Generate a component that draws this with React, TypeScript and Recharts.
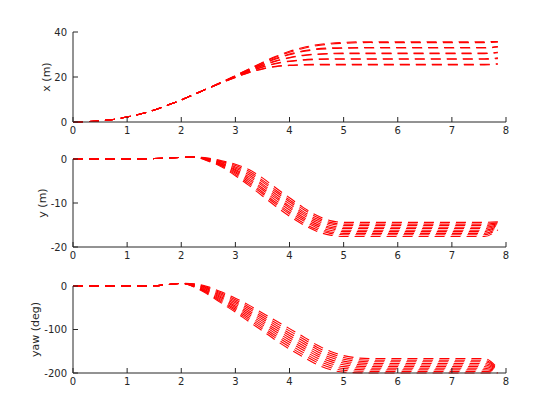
import { Line, LineChart, XAxis, YAxis } from "recharts";

// sample times: a shared start (all runs identical) and the part where runs diverge
const headTime = [0, 0.5, 1, 1.5, 1.75, 2];
const tailTime = [2.25, 2.5, 2.75, 3, 3.25, 3.5, 3.75, 4, 4.25, 4.5, 4.75, 5, 5.5, 7.6, 7.85];
const timeTicks = [0, 1, 2, 3, 4, 5, 6, 7, 8];

const xTicks = [0, 20, 40];
const yTicks = [-20, -10, 0];
const yawTicks = [-200, -100, 0];

// x (m)
const xHead = [0, 0.5, 2.2, 5.3, 7.5, 9.8];
const xTails = [
  [12.4, 15.0, 17.5, 19.8, 21.9, 23.5, 24.6, 25.1, 25.3, 25.4, 25.4, 25.4, 25.4, 25.4, 25.7],
  [12.4, 15.0, 17.5, 19.8, 22.0, 23.7, 24.8, 25.3, 25.5, 25.6, 25.6, 25.6, 25.6, 25.6, 25.9],
  [12.4, 15.0, 17.6, 20.0, 22.3, 24.3, 25.9, 26.9, 27.5, 27.8, 27.9, 27.9, 27.9, 27.9, 28.2],
  [12.4, 15.0, 17.6, 20.0, 22.4, 24.5, 26.1, 27.1, 27.7, 28.0, 28.1, 28.1, 28.1, 28.1, 28.5],
  [12.4, 15.0, 17.6, 20.2, 22.7, 25.0, 27.0, 28.5, 29.5, 30.0, 30.3, 30.4, 30.4, 30.4, 30.8],
  [12.4, 15.0, 17.6, 20.2, 22.8, 25.2, 27.2, 28.7, 29.7, 30.2, 30.5, 30.6, 30.6, 30.6, 31.0],
  [12.4, 15.0, 17.7, 20.4, 23.1, 25.7, 28.0, 29.9, 31.3, 32.2, 32.6, 32.8, 32.9, 32.9, 33.3],
  [12.4, 15.0, 17.7, 20.4, 23.2, 25.9, 28.3, 30.2, 31.6, 32.5, 32.9, 33.0, 33.1, 33.1, 33.5],
  [12.4, 15.0, 17.7, 20.6, 23.5, 26.3, 28.9, 31.0, 32.7, 33.9, 34.6, 35.0, 35.3, 35.3, 35.5],
  [12.4, 15.0, 17.7, 20.6, 23.6, 26.5, 29.2, 31.4, 33.1, 34.3, 35.0, 35.4, 35.7, 35.7, 35.8],
];

// y (m)
const yHead = [0, 0, 0, 0.1, 0.2, 0.35];
const yTails = [
  [0.45, 0.2, -0.4, -1.2, -2.4, -4.3, -6.6, -8.8, -11.0, -12.8, -14.0, -14.4, -14.4, -14.4, -14.3],
  [0.45, 0.1, -0.6, -1.5, -2.8, -4.8, -7.1, -9.3, -11.4, -13.2, -14.4, -14.8, -14.8, -14.8, -14.5],
  [0.44, 0.0, -0.7, -1.8, -3.2, -5.2, -7.5, -9.7, -11.9, -13.6, -14.7, -15.1, -15.1, -15.1, -14.7],
  [0.44, 0.0, -0.9, -2.1, -3.6, -5.7, -8.0, -10.2, -12.3, -14.0, -15.1, -15.5, -15.5, -15.5, -14.9],
  [0.43, -0.1, -1.0, -2.4, -4.0, -6.1, -8.5, -10.7, -12.7, -14.4, -15.5, -15.8, -15.8, -15.8, -15.1],
  [0.43, -0.2, -1.2, -2.6, -4.4, -6.6, -8.9, -11.1, -13.2, -14.8, -15.8, -16.2, -16.2, -16.2, -15.3],
  [0.42, -0.3, -1.3, -2.9, -4.8, -7.0, -9.4, -11.6, -13.6, -15.2, -16.2, -16.5, -16.5, -16.5, -15.5],
  [0.42, -0.3, -1.5, -3.2, -5.2, -7.5, -9.9, -12.1, -14.0, -15.6, -16.6, -16.9, -16.9, -16.9, -15.7],
  [0.41, -0.4, -1.6, -3.5, -5.6, -7.9, -10.3, -12.5, -14.5, -16.0, -16.9, -17.2, -17.2, -17.2, -15.9],
  [0.4, -0.5, -1.8, -3.8, -6.0, -8.4, -10.8, -13.0, -14.9, -16.4, -17.3, -17.6, -17.6, -17.6, -16.1],
];

// yaw (deg)
const yawHead = [0, 0, 0, 0.5, 3, 6];
const yawTails = [
  [5, -2, -14, -28, -44, -62, -80, -98, -116, -135, -150, -160, -167, -167, -190],
  [4.1, -4, -16.9, -31.6, -48.2, -66.6, -85, -103.2, -121.2, -140, -154.7, -164.2, -170.7, -170.7, -191.1],
  [3.2, -6, -19.8, -35.1, -52.4, -71.1, -90, -108.4, -126.4, -145, -159.3, -168.4, -174.3, -174.3, -192.2],
  [2.3, -8, -22.7, -38.7, -56.7, -75.7, -95, -113.7, -131.7, -150, -164, -172.7, -178, -178, -193.3],
  [1.4, -10, -25.6, -42.2, -60.9, -80.2, -100, -118.9, -136.9, -155, -168.7, -176.9, -181.7, -181.7, -194.4],
  [0.6, -12, -28.4, -45.8, -65.1, -84.8, -105, -124.1, -142.1, -160, -173.3, -181.1, -185.3, -185.3, -195.6],
  [-0.3, -14, -31.3, -49.3, -69.3, -89.3, -110, -129.3, -147.3, -165, -178, -185.3, -189, -189, -196.7],
  [-1.2, -16, -34.2, -52.9, -73.6, -93.9, -115, -134.6, -152.6, -170, -182.7, -189.6, -192.7, -192.7, -197.8],
  [-2.1, -18, -37.1, -56.4, -77.8, -98.4, -120, -139.8, -157.8, -175, -187.3, -193.8, -196.3, -196.3, -198.9],
  [-3, -20, -40, -60, -82, -103, -125, -145, -163, -180, -192, -198, -200, -200, -200],
];

const AXIS = "#262626";
const RED = "#ff0000";
const FONT = "DejaVu Sans, Liberation Sans, sans-serif";

function buildRows(head: number[], tails: number[][]) {
  const time = [...headTime, ...tailTime];
  return time.map((t, k) => {
    const row: Record<string, number> = { t };
    tails.forEach((tail, i) => {
      row[`s${i}`] = k < head.length ? head[k] : tail[k - head.length];
    });
    return row;
  });
}

function AxisLabel(props: any) {
  const { viewBox, text, gap } = props;
  const cx = viewBox.x + viewBox.width - gap;
  const cy = viewBox.y + viewBox.height / 2;
  return (
    <text
      x={cx}
      y={cy}
      dy="0.35em"
      transform={`rotate(-90, ${cx}, ${cy})`}
      textAnchor="middle"
      fill={AXIS}
      fontSize={11}
      fontFamily={FONT}
    >
      {text}
    </text>
  );
}

interface PanelProps {
  top: number;
  plotHeight: number;
  head: number[];
  tails: number[][];
  domain: [number, number];
  ticks: number[];
  label: string;
  labelGap: number;
}

function Panel({ top, plotHeight, head, tails, domain, ticks, label, labelGap }: PanelProps) {
  const rows = buildRows(head, tails);
  return (
    <div style={{ position: "absolute", left: 0, top }}>
      <LineChart
        width={560}
        height={10 + plotHeight + 25}
        data={rows}
        margin={{ top: 10, right: 54, bottom: 0, left: 13 }}
      >
        <XAxis
          dataKey="t"
          type="number"
          domain={[0, 8]}
          ticks={timeTicks}
          interval={0}
          allowDataOverflow
          height={25}
          tickSize={-5}
          tickMargin={10}
          stroke={AXIS}
          tick={{ fill: AXIS, fontSize: 10, fontFamily: FONT }}
        />
        <YAxis
          type="number"
          domain={domain}
          ticks={ticks}
          interval={0}
          allowDataOverflow
          width={60}
          tickSize={-5}
          tickMargin={11}
          stroke={AXIS}
          tick={{ fill: AXIS, fontSize: 10, fontFamily: FONT }}
          label={(p: any) => <AxisLabel {...p} text={label} gap={labelGap} />}
        />
        {tails.map((_, i) => (
          <Line
            key={i}
            dataKey={`s${i}`}
            type="monotone"
            stroke={RED}
            strokeWidth={1.1}
            strokeDasharray="10 6"
            dot={false}
            activeDot={false}
            isAnimationActive={false}
          />
        ))}
      </LineChart>
    </div>
  );
}

export default function App() {
  return (
    <div
      style={{
        position: "absolute",
        left: 0,
        top: 0,
        width: 560,
        height: 420,
        background: "#fff",
      }}
    >
      {/* let the runs that peak just above zero show, as in the reference */}
      <style>{`.recharts-line [clip-path], .recharts-line[clip-path] { clip-path: none !important; }`}</style>
      <Panel top={22} plotHeight={90} head={xHead} tails={xTails} domain={[0, 40]} ticks={xTicks} label="x (m)" labelGap={27} />
      <Panel top={149} plotHeight={88} head={yHead} tails={yTails} domain={[-20, 0]} ticks={yTicks} label="y (m)" labelGap={31} />
      <Panel top={276} plotHeight={87} head={yawHead} tails={yawTails} domain={[-200, 0]} ticks={yawTicks} label="yaw (deg)" labelGap={38} />
    </div>
  );
}
